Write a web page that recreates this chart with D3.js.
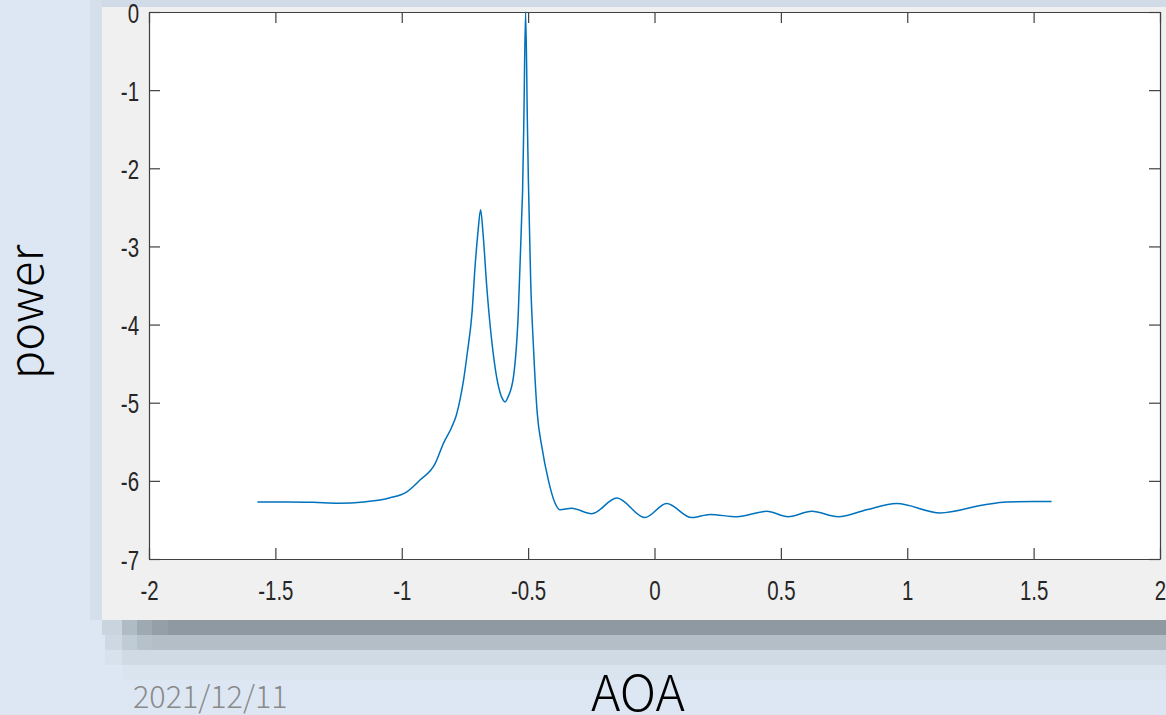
<!DOCTYPE html>
<html><head><meta charset="utf-8">
<script src="https://cdn.jsdelivr.net/npm/d3@7"></script>
<style>html,body{margin:0;padding:0;background:#dce7f3;overflow:hidden}</style>
</head><body>
<svg id="c" width="1166" height="715"></svg>
<script>
const aoa = [-1.571,-1.45,-1.35,-1.25,-1.15,-1.05,-0.98,-0.928,-0.868,-0.835,-0.802,-0.785,-0.77,-0.755,-0.741,-0.722,-0.710,-0.698,-0.688,-0.678,-0.664,-0.631,-0.60,-0.591,-0.58,-0.558,-0.539,-0.525,-0.522,-0.517,-0.510,-0.503,-0.499,-0.490,-0.479,-0.464,-0.446,-0.420,-0.394,-0.374,-0.328,-0.248,-0.149,-0.038,0.048,0.147,0.22,0.325,0.444,0.529,0.622,0.727,0.839,0.958,1.13,1.301,1.393,1.50,1.571];
const power = [-6.27,-6.27,-6.275,-6.285,-6.27,-6.22,-6.14,-5.99,-5.78,-5.52,-5.31,-5.17,-4.97,-4.7,-4.37,-3.85,-3.26,-2.8,-2.53,-2.85,-3.5,-4.54,-4.96,-4.99,-4.93,-4.67,-3.86,-2.57,-2.3,-1.4,0,-1.4,-2.15,-3.43,-4.28,-5.13,-5.56,-5.99,-6.28,-6.37,-6.35,-6.42,-6.22,-6.47,-6.29,-6.47,-6.43,-6.46,-6.39,-6.46,-6.39,-6.46,-6.37,-6.29,-6.41,-6.31,-6.27,-6.265,-6.265];
const xTicks = [-2,-1.5,-1,-0.5,0,0.5,1,1.5,2];
const xTickLabels = ["-2","-1.5","-1","-0.5","0","0.5","1","1.5","2"];
const yTicks = [-7,-6,-5,-4,-3,-2,-1,0];
const yTickLabels = ["-7","-6","-5","-4","-3","-2","-1","0"];
const xLabel = "AOA", yLabel = "power", dateText = "2021/12/11";

const svg = d3.select("#c");
svg.append("rect").attr("x",0).attr("y",0).attr("width",1166).attr("height",715).attr("fill","#dce7f3");
svg.append("rect").attr("x",90).attr("y",0).attr("width",1076).attr("height",7).attr("fill","#d0dbe7");
svg.append("rect").attr("x",90).attr("y",0).attr("width",12).attr("height",620).attr("fill","#d4dfeb");
const shadow = [
 [102,620,20,15,"#c9d4de"],[122,620,15,15,"#b0bcc5"],[137,620,15,15,"#9ea9b2"],[152,620,16,15,"#949fa8"],[168,620,998,15,"#8f99a2"],
 [105,635,17,15,"#cdd8e2"],[122,635,15,15,"#c0ccd5"],[137,635,15,15,"#b6c2cb"],[152,635,1014,15,"#b3bec7"],
 [105,650,17,15,"#d7e2ec"],[122,650,1044,15,"#cfdae5"],
 [122,665,1044,15,"#d9e4ee"]
];
shadow.forEach(s=>svg.append("rect").attr("x",s[0]).attr("y",s[1]).attr("width",s[2]).attr("height",s[3]).attr("fill",s[4]));
svg.append("rect").attr("x",102).attr("y",7).attr("width",1064).attr("height",613).attr("fill","#f0f0f0");

const x = d3.scaleLinear().domain([-2,2]).range([149,1160]);
const y = d3.scaleLinear().domain([-7,0]).range([559,12]);

svg.append("rect").attr("x",x(-2)).attr("y",y(0)).attr("width",x(2)-x(-2)).attr("height",y(-7)-y(0)).attr("fill","#ffffff");

const sx = 0.73;
const tickLen = 11;
const axisColor = "#404040";
function style(g){
  g.selectAll("path,line").attr("stroke",axisColor).attr("stroke-width",1.2);
  g.selectAll("text").attr("fill","#262626").attr("font-family","Arial, 'Liberation Sans', sans-serif").attr("font-size",28);
}
const gx = svg.append("g").attr("transform",`translate(0,${y(-7)})`)
  .call(d3.axisBottom(x).tickValues(xTicks).tickFormat((d,i)=>xTickLabels[i]).tickSizeInner(-tickLen).tickSizeOuter(0).tickPadding(0));
style(gx);
gx.selectAll("text").attr("dy",null).attr("y",41).attr("transform",`scale(${sx},1)`);
const gy = svg.append("g").attr("transform",`translate(${x(-2)},0)`)
  .call(d3.axisLeft(y).tickValues(yTicks).tickFormat((d,i)=>yTickLabels[i]).tickSizeInner(-tickLen).tickSizeOuter(0).tickPadding(0));
style(gy);
gy.selectAll("text").attr("x",-10/sx).attr("dy","0.36em").attr("transform",`scale(${sx},1)`);
const gt = svg.append("g").attr("transform",`translate(0,${y(0)})`)
  .call(d3.axisTop(x).tickValues(xTicks).tickFormat("").tickSizeInner(-tickLen).tickSizeOuter(0));
style(gt);
const gr = svg.append("g").attr("transform",`translate(${x(2)},0)`)
  .call(d3.axisRight(y).tickValues(yTicks).tickFormat("").tickSizeInner(-tickLen).tickSizeOuter(0));
style(gr);

const pts = aoa.map((a,i)=>[a,power[i]]);
const line = d3.line().x(d=>x(d[0])).y(d=>y(d[1])).curve(d3.curveMonotoneX);
svg.append("path").attr("d",line(pts)).attr("fill","none").attr("stroke","#0072BD").attr("stroke-width",1.5);

svg.append("text").attr("transform","translate(43,312) rotate(-90)").attr("text-anchor","middle")
  .attr("font-family","'Noto Sans CJK SC','Noto Sans',sans-serif").attr("font-weight",300).attr("font-size",47).attr("fill","#000").text(yLabel);
svg.append("text").attr("x",638).attr("y",711).attr("text-anchor","middle")
  .attr("font-family","'Noto Sans CJK SC','Noto Sans',sans-serif").attr("font-weight",300).attr("font-size",50).attr("fill","#000").text(xLabel);
svg.append("text").attr("x",133).attr("y",708)
  .attr("font-family","'Noto Sans CJK SC','Noto Sans',sans-serif").attr("font-weight",300).attr("font-size",30.5).attr("fill","#8a8a8a").text(dateText);
</script>
</body></html>
